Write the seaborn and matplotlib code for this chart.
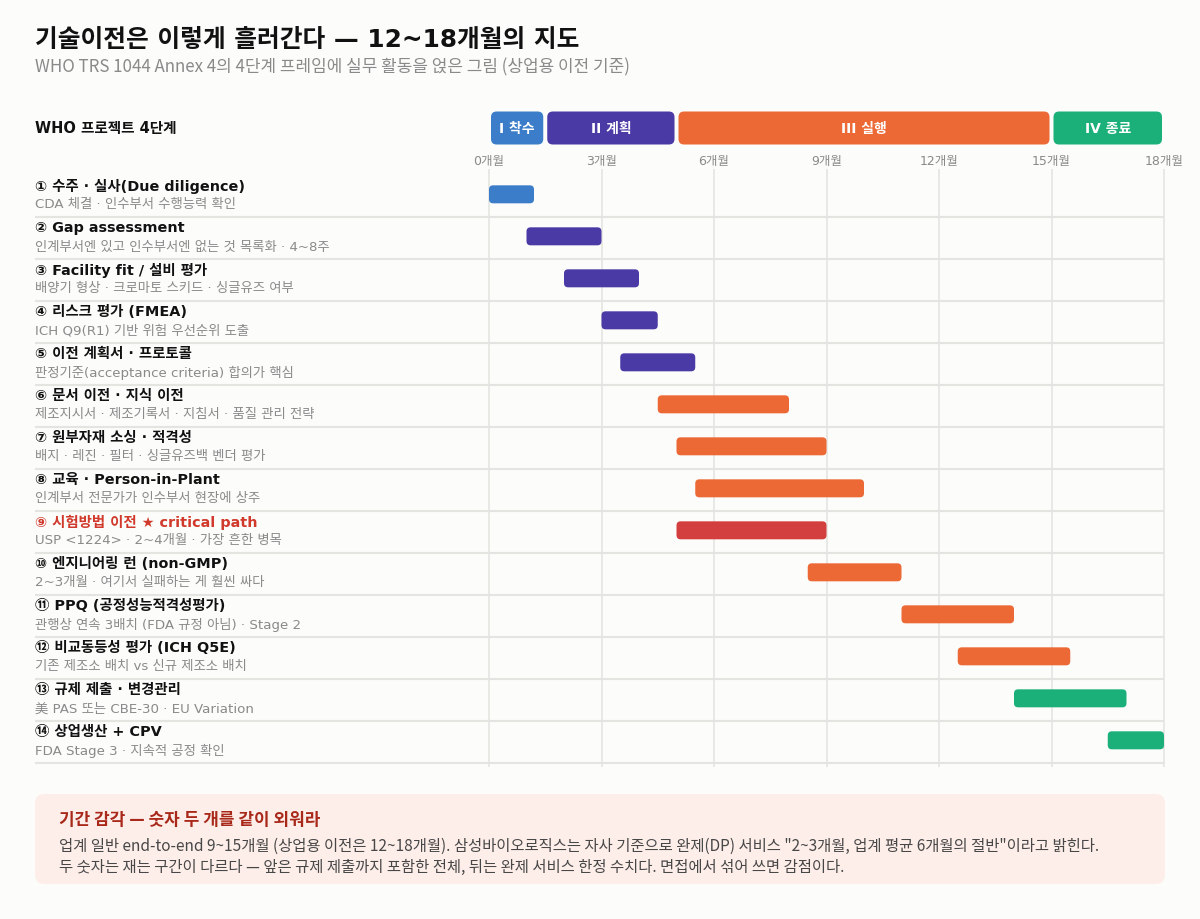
import matplotlib
matplotlib.use("Agg")
import matplotlib.pyplot as plt
from matplotlib.patches import FancyBboxPatch
import seaborn as sns

## DATA
phase_names = ["I 착수", "II 계획", "III 실행", "IV 종료"]
phase_start = [0, 1.5, 5, 15]
phase_end = [1.5, 5, 15, 18]
phase_colors = ["#3b7dc9", "#4a3aa6", "#ec6834", "#1bb07a"]
crit_color = "#d33f3f"

month_ticks = [0, 3, 6, 9, 12, 15, 18]
month_labels = ["0개월", "3개월", "6개월", "9개월", "12개월", "15개월", "18개월"]

task_titles = [
    "① 수주 · 실사(Due diligence)",
    "② Gap assessment",
    "③ Facility fit / 설비 평가",
    "④ 리스크 평가 (FMEA)",
    "⑤ 이전 계획서 · 프로토콜",
    "⑥ 문서 이전 · 지식 이전",
    "⑦ 원부자재 소싱 · 적격성",
    "⑧ 교육 · Person-in-Plant",
    "⑨ 시험방법 이전 ★ critical path",
    "⑩ 엔지니어링 런 (non-GMP)",
    "⑪ PPQ (공정성능적격성평가)",
    "⑫ 비교동등성 평가 (ICH Q5E)",
    "⑬ 규제 제출 · 변경관리",
    "⑭ 상업생산 + CPV",
]
task_notes = [
    "CDA 체결 · 인수부서 수행능력 확인",
    "인계부서엔 있고 인수부서엔 없는 것 목록화 · 4~8주",
    "배양기 형상 · 크로마토 스키드 · 싱글유즈 여부",
    "ICH Q9(R1) 기반 위험 우선순위 도출",
    "판정기준(acceptance criteria) 합의가 핵심",
    "제조지시서 · 제조기록서 · 지침서 · 품질 관리 전략",
    "배지 · 레진 · 필터 · 싱글유즈백 벤더 평가",
    "인계부서 전문가가 인수부서 현장에 상주",
    "USP <1224> · 2~4개월 · 가장 흔한 병목",
    "2~3개월 · 여기서 실패하는 게 훨씬 싸다",
    "관행상 연속 3배치 (FDA 규정 아님) · Stage 2",
    "기존 제조소 배치 vs 신규 제조소 배치",
    "美 PAS 또는 CBE-30 · EU Variation",
    "FDA Stage 3 · 지속적 공정 확인",
]
task_start = [0, 1, 2, 3, 3.5, 4.5, 5, 5.5, 5, 8.5, 11, 12.5, 14, 16.5]
task_end = [1.2, 3, 4, 4.5, 5.5, 8, 9, 10, 9, 11, 14, 15.5, 17, 18]
task_phase = [0, 1, 1, 1, 1, 2, 2, 2, 2, 2, 2, 2, 3, 3]
task_critical = [False] * 8 + [True] + [False] * 5

sns.set_theme(style="white")
plt.rcParams["font.family"] = ["DejaVu Sans", "Noto Sans CJK KR"]
cjk = ["Noto Sans CJK KR", "DejaVu Sans"]
bg = "#fcfcfa"

fig = plt.figure(figsize=(12, 9.2), dpi=100, facecolor=bg)
W, H = 1200, 920

# gantt axes: x from 35px to 1164px, rows 176px..764px
ax_l, ax_r, ax_t, ax_b = 35, 1164, 176, 764
ax = fig.add_axes([ax_l / W, 1 - ax_b / H, (ax_r - ax_l) / W, (ax_b - ax_t) / H])
ax.set_facecolor(bg)
n = len(task_titles)
px_per_month = 37.5
x_left = -(489 - ax_l) / px_per_month
ax.set_xlim(x_left, 18)
ax.set_ylim(n, 0)
for s in ax.spines.values():
    s.set_visible(False)
ax.set_xticks([])
ax.set_yticks([])

px_per_row = (ax_b - ax_t) / n
asp = px_per_month / px_per_row
def ypx(p):
    return (p - ax_t) / px_per_row

# vertical grid lines + month labels
ax.vlines(month_ticks, ypx(170), ypx(768), color="#e6e6e2", lw=1.3, zorder=0, clip_on=False)
for m, lab in zip(month_ticks, month_labels):
    ax.text(m, ypx(161), lab, ha="center", va="center", fontsize=9, color="#8a8a8a", clip_on=False)

# row separators
ax.hlines(range(1, n + 1), x_left, 18, color="#e4e4e0", lw=1.5, zorder=0, clip_on=False)

# phase header
ax.text(x_left, ypx(129), "WHO 프로젝트 4단계", ha="left", va="center", fontsize=10.5,
        fontweight="bold", color="#111111", clip_on=False)
ph_c, ph_h = ypx(129), 33 / px_per_row
gap = 2 / px_per_month
for name, s, e, c in zip(phase_names, phase_start, phase_end, phase_colors):
    box = FancyBboxPatch((s + gap, ph_c - ph_h / 2), e - s - 2 * gap, ph_h,
                         boxstyle="round,pad=0,rounding_size=0.15", mutation_aspect=asp,
                         fc=c, ec="none", clip_on=False)
    ax.add_patch(box)
    ax.text((s + e) / 2, ph_c, name, ha="center", va="center", fontsize=10,
            fontweight="bold", color="white", clip_on=False)

# task rows
bar_h = 18 / px_per_row
for i in range(n):
    c = crit_color if task_critical[i] else phase_colors[task_phase[i]]
    yc = i + 0.46
    box = FancyBboxPatch((task_start[i], yc - bar_h / 2), task_end[i] - task_start[i], bar_h,
                         boxstyle="round,pad=0,rounding_size=0.11", mutation_aspect=asp,
                         fc=c, ec="none", clip_on=False, zorder=3)
    ax.add_patch(box)
    tc = "#d0392b" if task_critical[i] else "#111111"
    ax.text(x_left, i + 0.24, task_titles[i], ha="left", va="center", fontsize=10.4,
            fontweight="bold", color=tc)
    ax.text(x_left, i + 0.69, task_notes[i], ha="left", va="center", fontsize=9.6,
            color="#8a8a8a")

# title
fig.text(35 / W, 1 - 40 / H, "기술이전은 이렇게 흘러간다 — 12~18개월의 지도", ha="left", va="center",
         fontsize=17.8, fontweight="bold", color="#111111")
fig.text(35 / W, 1 - 67 / H, "WHO TRS 1044 Annex 4의 4단계 프레임에 실무 활동을 얹은 그림 (상업용 이전 기준)",
         ha="left", va="center", fontsize=12.2, color="#8a8a8a", family=cjk)

# bottom note box
note = FancyBboxPatch((35 / W, 1 - 885 / H), 1130 / W, 90 / H,
                      boxstyle="round,pad=0,rounding_size=0.008", mutation_aspect=W / H,
                      transform=fig.transFigure, fc="#fdeee9", ec="none")
fig.patches.append(note)
fig.text(59 / W, 1 - 820 / H, "기간 감각 — 숫자 두 개를 같이 외워라", ha="left", va="center",
         fontsize=12.2, fontweight="bold", color="#a8281a", family=cjk)
fig.text(59 / W, 1 - 846 / H,
         "업계 일반 end-to-end 9~15개월 (상업용 이전은 12~18개월). 삼성바이오로직스는 자사 기준으로 완제(DP) 서비스 \"2~3개월, 업계 평균 6개월의 절반\"이라고 밝힌다.",
         ha="left", va="center", fontsize=11.1, color="#474747", family=cjk)
fig.text(59 / W, 1 - 867 / H,
         "두 숫자는 재는 구간이 다르다 — 앞은 규제 제출까지 포함한 전체, 뒤는 완제 서비스 한정 수치다. 면접에서 섞어 쓰면 감점이다.",
         ha="left", va="center", fontsize=11.1, color="#474747", family=cjk)

fig.savefig("out.png", dpi=100, facecolor=bg)
